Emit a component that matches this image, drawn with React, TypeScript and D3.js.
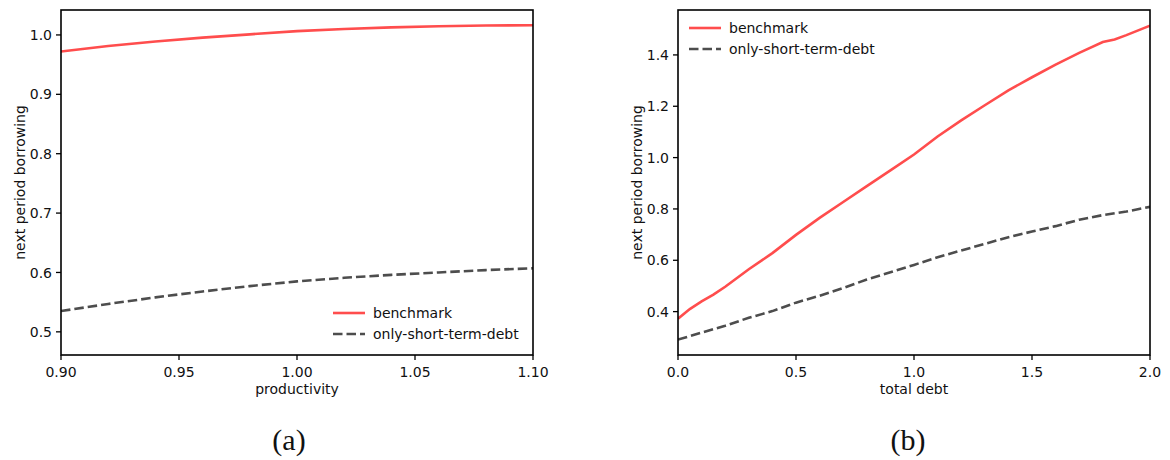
import React from "react";
import * as d3 from "d3";

// panel (a): next period borrowing vs productivity
const prodX = [0.9, 0.92, 0.94, 0.96, 0.98, 1.0, 1.02, 1.04, 1.06, 1.08, 1.1];
const prodBench = [0.972, 0.9815, 0.989, 0.9955, 1.001, 1.0065, 1.010, 1.0128, 1.0146, 1.0158, 1.0163];
const prodShort = [0.535, 0.547, 0.558, 0.568, 0.577, 0.585, 0.591, 0.596, 0.6, 0.604, 0.607];

// panel (b): next period borrowing vs total debt
const debtX = [0, 0.05, 0.1, 0.15, 0.2, 0.3, 0.4, 0.5, 0.6, 0.7, 0.8, 0.9, 1.0, 1.1, 1.2, 1.3, 1.4, 1.5, 1.6, 1.7, 1.8, 1.85, 1.9, 2.0];
const debtBench = [0.372, 0.41, 0.44, 0.466, 0.497, 0.565, 0.628, 0.699, 0.765, 0.827, 0.889, 0.95, 1.012, 1.082, 1.145, 1.204, 1.262, 1.313, 1.362, 1.408, 1.45, 1.46, 1.477, 1.514];
const debtX2 = [0, 0.1, 0.2, 0.3, 0.4, 0.5, 0.6, 0.7, 0.8, 0.9, 1.0, 1.1, 1.2, 1.3, 1.4, 1.5, 1.6, 1.7, 1.8, 1.9, 2.0];
const debtShort = [0.291, 0.318, 0.345, 0.376, 0.402, 0.435, 0.462, 0.492, 0.525, 0.553, 0.582, 0.612, 0.638, 0.664, 0.69, 0.712, 0.733, 0.758, 0.776, 0.79, 0.808];

const prodTicks = [0.9, 0.95, 1.0, 1.05, 1.1];
const prodYTicks = [0.5, 0.6, 0.7, 0.8, 0.9, 1.0];
const debtTicks = [0, 0.5, 1.0, 1.5, 2.0];
const debtYTicks = [0.4, 0.6, 0.8, 1.0, 1.2, 1.4];

const RED = "#ff4d4d";
const GRAY = "#4d4d4d";
const FONT = "DejaVu Sans, sans-serif";

interface PanelProps {
  left: number;
  right: number;
  xDomain: [number, number];
  yDomain: [number, number];
  xTicks: number[];
  yTicks: number[];
  xFmt: (d: number) => string;
  bench: [number, number][];
  short: [number, number][];
  xLabel: string;
  caption: string;
  captionX: number;
  legendX: number;
  legendY: number;
}

const Panel = (p: PanelProps) => {
  const top = 10;
  const bottom = 355;
  const x = d3.scaleLinear().domain(p.xDomain).range([p.left, p.right]);
  const y = d3.scaleLinear().domain(p.yDomain).range([bottom, top]);
  const line = d3
    .line<[number, number]>()
    .x((d) => x(d[0]))
    .y((d) => y(d[1]));
  const clipId = "clip-" + p.caption.replace(/\W/g, "");
  const mid = (p.left + p.right) / 2;

  return (
    <g>
      <defs>
        <clipPath id={clipId}>
          <rect x={p.left} y={top} width={p.right - p.left} height={bottom - top} />
        </clipPath>
      </defs>
      <g clipPath={`url(#${clipId})`} fill="none">
        <path d={line(p.bench) || ""} stroke={RED} strokeWidth={2.6} />
        <path d={line(p.short) || ""} stroke={GRAY} strokeWidth={2.6} strokeDasharray="9.5,4" />
      </g>
      <rect x={p.left} y={top} width={p.right - p.left} height={bottom - top} fill="none" stroke="#000" strokeWidth={1.6} />

      {p.xTicks.map((t) => (
        <g key={"x" + t}>
          <line x1={x(t)} x2={x(t)} y1={bottom} y2={bottom + 5} stroke="#000" strokeWidth={1.3} />
          <text x={x(t)} y={377} textAnchor="middle" fontFamily={FONT} fontSize={14} fill="#111">
            {p.xFmt(t)}
          </text>
        </g>
      ))}
      {p.yTicks.map((t) => (
        <g key={"y" + t}>
          <line x1={p.left - 5} x2={p.left} y1={y(t)} y2={y(t)} stroke="#000" strokeWidth={1.3} />
          <text x={p.left - 9} y={y(t)} dy="0.36em" textAnchor="end" fontFamily={FONT} fontSize={14} fill="#111">
            {t.toFixed(1)}
          </text>
        </g>
      ))}

      <text x={mid} y={394} textAnchor="middle" fontFamily={FONT} fontSize={14} fill="#111">
        {p.xLabel}
      </text>
      <text
        transform={`translate(${p.left - 41},${(top + bottom) / 2}) rotate(-90)`}
        textAnchor="middle"
        dy="0.36em"
        fontFamily={FONT}
        fontSize={14}
        fill="#111"
      >
        next period borrowing
      </text>

      {/* legend */}
      <g fontFamily={FONT} fontSize={14} fill="#111">
        <line x1={p.legendX} x2={p.legendX + 32} y1={p.legendY} y2={p.legendY} stroke={RED} strokeWidth={2.6} />
        <text x={p.legendX + 40} y={p.legendY} dy="0.36em">benchmark</text>
        <line x1={p.legendX} x2={p.legendX + 32} y1={p.legendY + 21} y2={p.legendY + 21} stroke={GRAY} strokeWidth={2.6} strokeDasharray="9.5,4" />
        <text x={p.legendX + 40} y={p.legendY + 21} dy="0.36em">only-short-term-debt</text>
      </g>

      <text x={p.captionX} y={450} textAnchor="middle" fontFamily="Liberation Serif, serif" fontSize={30} fill="#111">
        {p.caption}
      </text>
    </g>
  );
};

const zip = (xs: number[], ys: number[]): [number, number][] => xs.map((v, i) => [v, ys[i]]);

const App = () => {
  return (
    <svg width={1170} height={460} style={{ position: "absolute", left: 0, top: 0, background: "#fff" }}>
      <Panel
        left={61}
        right={533}
        xDomain={[0.9, 1.1]}
        yDomain={[0.461, 1.042]}
        xTicks={prodTicks}
        yTicks={prodYTicks}
        xFmt={(d) => d.toFixed(2)}
        bench={zip(prodX, prodBench)}
        short={zip(prodX, prodShort)}
        xLabel="productivity"
        caption="(a)"
        captionX={289}
        legendX={333}
        legendY={313}
      />
      <Panel
        left={678}
        right={1150}
        xDomain={[0, 2]}
        yDomain={[0.231, 1.575]}
        xTicks={debtTicks}
        yTicks={debtYTicks}
        xFmt={(d) => d.toFixed(1)}
        bench={zip(debtX, debtBench)}
        short={zip(debtX2, debtShort)}
        xLabel="total debt"
        caption="(b)"
        captionX={908}
        legendX={689}
        legendY={28}
      />
    </svg>
  );
};

export default App;
